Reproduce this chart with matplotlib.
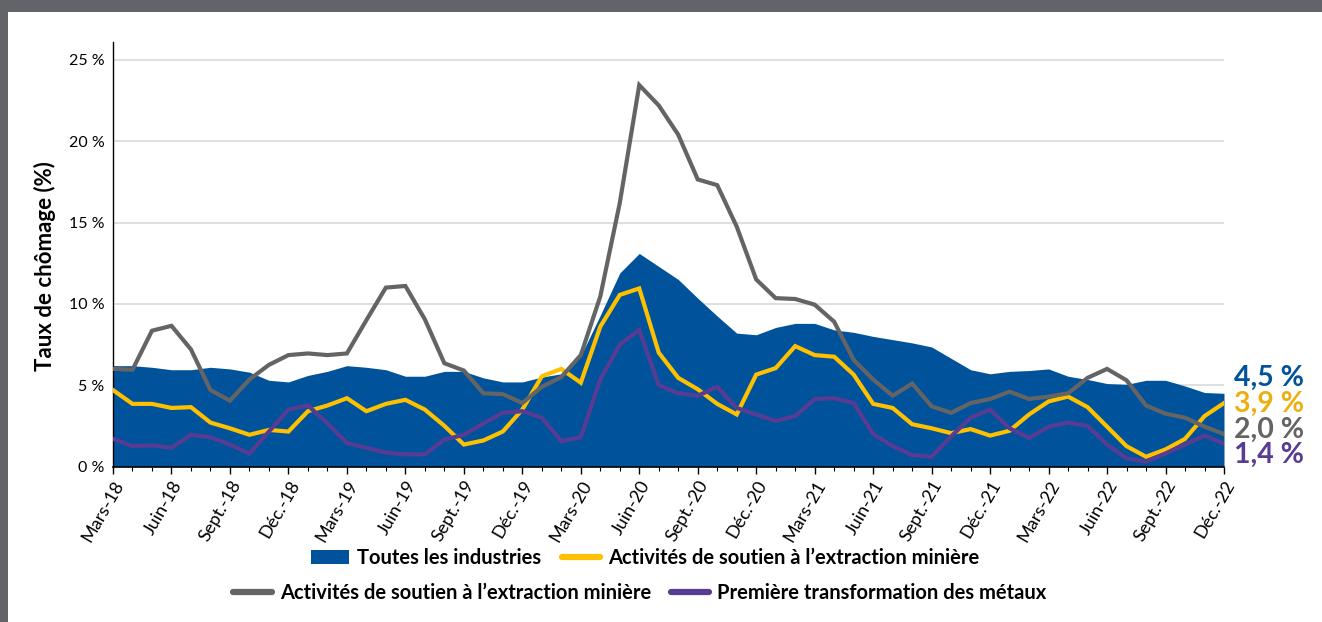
import matplotlib
matplotlib.use("Agg")
import matplotlib.pyplot as plt
from matplotlib.patches import Rectangle, Patch
from matplotlib.lines import Line2D
from matplotlib.ticker import FixedLocator, MultipleLocator

plt.rcParams['font.family'] = ['Lato', 'DejaVu Sans']

# Monthly series, March 2018 to December 2022 (unemployment rate, %)
months_fr = ["Mars", "Juin", "Sept.", "Déc."]
years = ["18", "19", "20", "21", "22"]

toutes_industries = [
    6.2, 6.2, 6.1, 5.95, 5.95, 6.1, 6.0, 5.8, 5.3, 5.2,
    5.6, 5.85, 6.2, 6.1, 5.95, 5.55, 5.55, 5.85, 5.85, 5.45,
    5.2, 5.2, 5.5, 5.7, 6.8, 9.3, 11.9, 13.1, 12.3, 11.5,
    10.35, 9.25, 8.2, 8.1, 8.55, 8.8, 8.8, 8.4, 8.25, 8.0,
    7.8, 7.6, 7.35, 6.65, 5.95, 5.7, 5.85, 5.9, 6.0, 5.55,
    5.35, 5.1, 5.05, 5.3, 5.3, 4.95, 4.55, 4.5,
]
soutien_jaune = [
    4.7, 3.85, 3.85, 3.6, 3.65, 2.7, 2.35, 1.95, 2.25, 2.15,
    3.4, 3.75, 4.2, 3.4, 3.85, 4.1, 3.5, 2.5, 1.35, 1.6,
    2.15, 3.5, 5.55, 6.0, 5.15, 8.6, 10.55, 10.95, 7.0, 5.45,
    4.75, 3.85, 3.2, 5.65, 6.05, 7.4, 6.85, 6.75, 5.65, 3.85,
    3.6, 2.6, 2.35, 2.05, 2.3, 1.9, 2.2, 3.2, 4.0, 4.3,
    3.65, 2.45, 1.25, 0.6, 1.05, 1.7, 3.1, 3.9,
]
soutien_gris = [
    6.0, 5.95, 8.35, 8.65, 7.2, 4.7, 4.05, 5.35, 6.25, 6.85,
    6.95, 6.85, 6.95, 9.0, 11.0, 11.1, 9.05, 6.35, 5.9, 4.5,
    4.45, 3.9, 4.9, 5.5, 6.85, 10.45, 16.2, 23.45, 22.2, 20.4,
    17.65, 17.3, 14.75, 11.5, 10.35, 10.3, 9.95, 8.9, 6.55, 5.35,
    4.35, 5.1, 3.7, 3.3, 3.9, 4.15, 4.6, 4.15, 4.3, 4.5,
    5.45, 6.0, 5.3, 3.75, 3.25, 3.0, 2.45, 2.0,
]
metaux = [
    1.7, 1.25, 1.3, 1.15, 1.95, 1.8, 1.35, 0.8, 2.15, 3.5,
    3.75, 2.65, 1.45, 1.15, 0.85, 0.75, 0.75, 1.65, 1.95, 2.65,
    3.3, 3.4, 3.0, 1.55, 1.8, 5.35, 7.5, 8.4, 5.0, 4.5,
    4.35, 4.9, 3.6, 3.2, 2.8, 3.1, 4.15, 4.2, 3.9, 2.0,
    1.25, 0.7, 0.6, 1.85, 3.0, 3.5, 2.35, 1.75, 2.45, 2.7,
    2.5, 1.35, 0.5, 0.3, 0.8, 1.35, 1.9, 1.4,
]

legend_labels = [
    "Toutes les industries",
    "Activités de soutien à l\u2019extraction minière",
    "Activités de soutien à l\u2019extraction minière",
    "Première transformation des métaux",
]

BLUE = "#00539B"
YELLOW = "#FFC000"
YELLOW_TXT = "#EBB010"
GRAY = "#646464"
PURPLE = "#583C93"
FRAME = "#636469"

n = len(toutes_industries)
x = list(range(n))
tick_pos = list(range(0, n, 3))
tick_labels = [f"{months_fr[k % 4]}-{years[k // 4]}" for k in range(len(tick_pos))]

W, H = 1322, 622
fig = plt.figure(figsize=(W / 100, H / 100), dpi=100)
fig.patch.set_facecolor("white")

# dark frame along the top and left edges
fig.patches.append(Rectangle((0, 1 - 12 / H), 1, 12 / H, transform=fig.transFigure,
                             facecolor=FRAME, edgecolor="none", zorder=0))
fig.patches.append(Rectangle((0, 0), 8 / W, 1, transform=fig.transFigure,
                             facecolor=FRAME, edgecolor="none", zorder=0))

ax = fig.add_axes([113 / W, 1 - 466.5 / H, (1224 - 113) / W, (466.5 - 42) / H])

ax.fill_between(x, 0, toutes_industries, color=BLUE, linewidth=0, zorder=2)
ax.plot(x, soutien_jaune, color=YELLOW, lw=3.0, zorder=3, solid_joinstyle="miter")
ax.plot(x, soutien_gris, color=GRAY, lw=3.0, zorder=4, solid_joinstyle="miter")
ax.plot(x, metaux, color=PURPLE, lw=3.0, zorder=5, solid_joinstyle="miter")

ax.set_xlim(0, n - 1)
ax.set_ylim(0, 26.1)
ax.set_yticks([0, 5, 10, 15, 20, 25])
ax.set_yticklabels([f"{v} %" for v in [0, 5, 10, 15, 20, 25]], fontsize=11.5)
ax.yaxis.grid(True, color="#D9D9D9", lw=1.2, zorder=1)
ax.set_axisbelow(True)
ax.tick_params(axis="y", length=0, pad=6)

ax.xaxis.set_major_locator(FixedLocator(tick_pos))
ax.xaxis.set_minor_locator(MultipleLocator(1))
ax.set_xticklabels(tick_labels, rotation=60, ha="right", rotation_mode="anchor", fontsize=13)
ax.tick_params(axis="x", which="major", length=5, width=1, color="black", pad=3)
ax.tick_params(axis="x", which="minor", length=3, width=0.8, color="black")

for side in ["top", "right"]:
    ax.spines[side].set_visible(False)
ax.spines["left"].set_color("black")
ax.spines["left"].set_linewidth(1)
ax.spines["bottom"].set_color("black")
ax.spines["bottom"].set_linewidth(1.2)
ax.spines["bottom"].set_zorder(6)

fig.text(45 / W, 1 - 266 / H, "Taux de chômage (%)", rotation=90, fontsize=16,
         fontweight="bold", ha="center", va="center")

# end-of-series value labels
end_vals = [toutes_industries[-1], soutien_jaune[-1], soutien_gris[-1], metaux[-1]]
end_cols = [BLUE, YELLOW_TXT, GRAY, PURPLE]
end_y = [378, 404, 430, 455]
for v, c, yy in zip(end_vals, end_cols, end_y):
    fig.text(1234 / W, 1 - yy / H, f"{v:.1f} %".replace(".", ","), color=c,
             fontsize=20.5, fontweight="bold", ha="left", va="center")

# legend, two centred rows
row1 = [Patch(facecolor=BLUE, edgecolor="none"),
        Line2D([], [], color=YELLOW, lw=4.5, solid_capstyle="round")]
row2 = [Line2D([], [], color=GRAY, lw=4.5, solid_capstyle="round"),
        Line2D([], [], color=PURPLE, lw=4.5, solid_capstyle="round")]
leg_kw = dict(frameon=False, ncol=2, prop={"size": 14.5, "weight": "bold"},
              handlelength=1.9, handletextpad=0.4, columnspacing=1.0, loc="center")
fig.legend(row1, legend_labels[:2], bbox_to_anchor=(645 / W, 1 - 558 / H), **leg_kw)
fig.legend(row2, legend_labels[2:], bbox_to_anchor=(640 / W, 1 - 593 / H), **leg_kw)

fig.savefig("out.png", dpi=100, facecolor="white")
